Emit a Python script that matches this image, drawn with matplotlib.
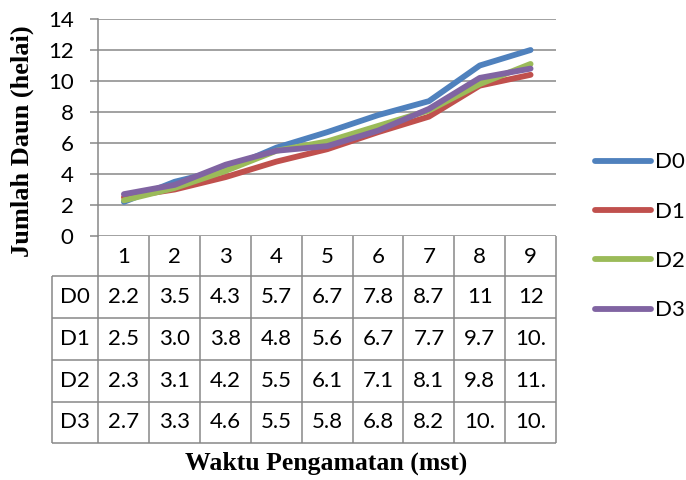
import matplotlib
matplotlib.use("Agg")
import matplotlib.pyplot as plt

# Observation weeks and mean leaf counts per treatment
weeks = [1, 2, 3, 4, 5, 6, 7, 8, 9]
series_names = ["D0", "D1", "D2", "D3"]
d0 = [2.2, 3.5, 4.3, 5.7, 6.7, 7.8, 8.7, 11, 12]
d1 = [2.5, 3.0, 3.8, 4.8, 5.6, 6.7, 7.7, 9.7, 10.4]
d2 = [2.3, 3.1, 4.2, 5.5, 6.1, 7.1, 8.1, 9.8, 11.1]
d3 = [2.7, 3.3, 4.6, 5.5, 5.8, 6.8, 8.2, 10.2, 10.8]
y_ticks = [0, 2, 4, 6, 8, 10, 12, 14]

series = [d0, d1, d2, d3]
colors = ["#4F81BD", "#C0504D", "#9BBB59", "#8064A2"]
GRID = "#878787"
SANS = ["Lato", "DejaVu Sans"]
SERIF = ["Liberation Serif", "DejaVu Serif"]
FS = 16


def cell_text(v):
    # integer entries print as-is, others with one decimal, clipped to the cell
    if isinstance(v, int):
        return str(v)
    return f"{v:.1f}"[:3]


W, H = 686, 480
L, R, T, B = 98.5, 556, 19, 236          # plot area in pixels
fig = plt.figure(figsize=(W / 100, H / 100), dpi=100)
ax = fig.add_axes([L / W, 1 - B / H, (R - L) / W, (B - T) / H])
ax.set_xlim(0.5, len(weeks) + 0.5)
ax.set_ylim(0, 14)

col_w = (R - L) / len(weeks)


def fy(py):
    return (B - py) / (B - T)


def fx(px):
    return 0.5 + (px - L) / col_w


for vals, name, c in zip(series, series_names, colors):
    ax.plot(weeks, vals, color=c, lw=4.2, label=name,
            solid_capstyle="round", solid_joinstyle="round", zorder=3)

ax.set_yticks(y_ticks)
ax.set_yticklabels([str(t) for t in y_ticks], family=SANS, fontsize=FS)
ax.tick_params(axis="y", direction="out", length=6, width=1.1, color=GRID, pad=12)
ax.tick_params(axis="x", bottom=False, labelbottom=False)
ax.grid(axis="y", color=GRID, lw=1.1)
ax.set_axisbelow(True)
for s in ["top", "right", "bottom"]:
    ax.spines[s].set_visible(False)
ax.spines["left"].set_color(GRID)
ax.spines["left"].set_linewidth(1.1)

# data table below the plot
tr = ax.get_xaxis_transform()
header_bottom = 276
row_edges = [276, 318, 360, 402, 443]
table_left = 52
kw = dict(transform=tr, color=GRID, lw=1.1, clip_on=False, solid_capstyle="butt")
for py in row_edges:
    ax.plot([fx(table_left), fx(R)], [fy(py), fy(py)], **kw)
ax.plot([fx(table_left)] * 2, [fy(row_edges[0]), fy(row_edges[-1])], **kw)
ax.plot([0.5, 0.5], [fy(B), fy(row_edges[-1])], **kw)
for i in range(len(weeks)):
    xb = weeks[i] + 0.5
    ax.plot([xb, xb], [fy(B), fy(row_edges[-1])], **kw)

for w in weeks:
    ax.text(w, fy((B + header_bottom) / 2 + 1), str(w), transform=tr,
            ha="center", va="center", family=SANS, fontsize=FS)
label_x = fx((table_left + L) / 2)
for r, (vals, name) in enumerate(zip(series, series_names)):
    yc = fy((row_edges[r] + row_edges[r + 1]) / 2)
    ax.text(label_x, yc, name, transform=tr, ha="center", va="center",
            family=SANS, fontsize=FS)
    for w, v in zip(weeks, vals):
        ax.text(w, yc, cell_text(v), transform=tr, ha="center", va="center",
                family=SANS, fontsize=FS)

fig.text(22 / W, 1 - 141 / H, "Jumlah Daun (helai)", rotation=90,
         ha="center", va="center", family=SERIF, fontweight="bold", fontsize=19)
fig.text(326 / W, 1 - 463 / H, "Waktu Pengamatan (mst)",
         ha="center", va="center", family=SERIF, fontweight="bold", fontsize=18.5)

leg = ax.legend(loc="center left", bbox_to_anchor=(595 / W, 1 - 236.5 / H),
                bbox_transform=fig.transFigure, frameon=False, borderpad=0,
                borderaxespad=0, handlelength=2.5, handletextpad=0.2,
                labelspacing=1.32, prop={"family": SANS, "size": FS})
for h in leg.legend_handles:
    h.set_linewidth(4.2)

fig.savefig("out.png", dpi=100)
